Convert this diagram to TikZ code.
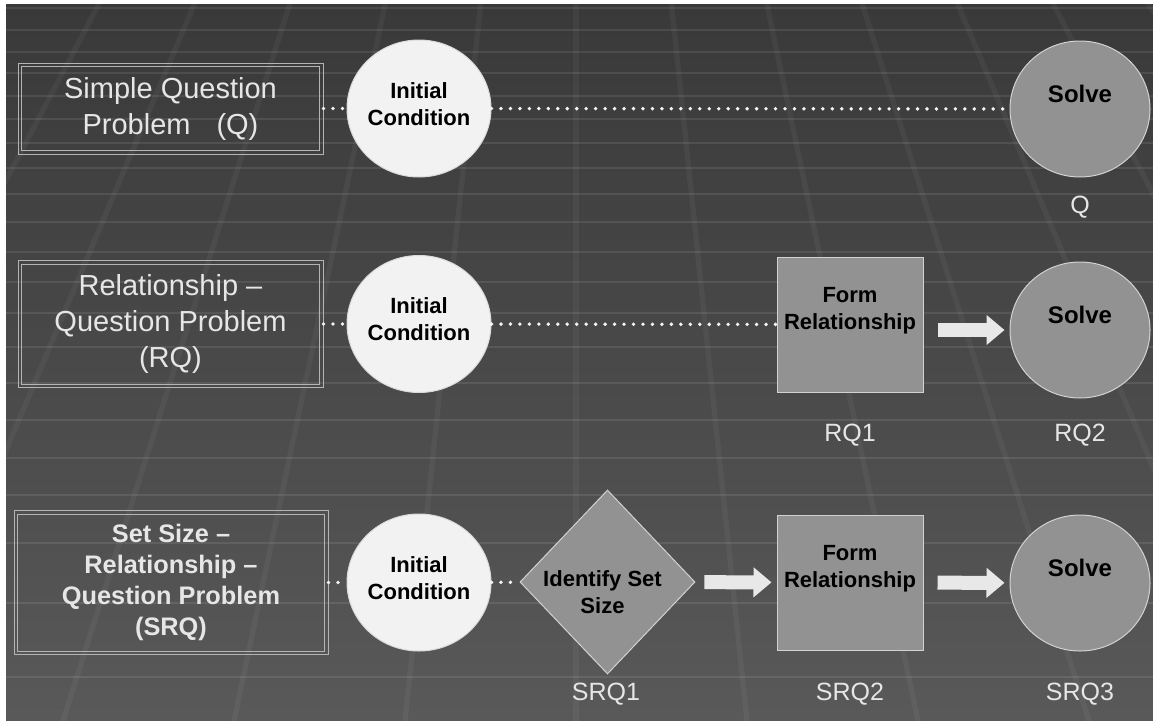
\documentclass[tikz,border=0pt]{standalone}
\usepackage{fontspec}
\setmainfont{Liberation Sans}
\usetikzlibrary{shapes.geometric,arrows.meta,calc}
\definecolor{bgtop}{HTML}{393939}
\definecolor{bgbot}{HTML}{595959}
\definecolor{icfill}{HTML}{F2F2F2}
\definecolor{icedge}{HTML}{DADADA}
\definecolor{gfill}{HTML}{929292}
\definecolor{gedge}{HTML}{D2D2D2}
\definecolor{boxedge}{HTML}{B4B4B4}
\definecolor{txtlight}{HTML}{E6E6E6}
\definecolor{dotcol}{HTML}{F4F4F4}
\definecolor{arrcol}{HTML}{E8E8E8}
\begin{document}
\begin{tikzpicture}[x=0.75pt,y=-0.75pt,
  probbox/.style={draw=boxedge, line width=0.75pt, inner sep=0pt, align=center, text=txtlight},
  regtxt/.style={font=\fontsize{21.75pt}{27pt}\selectfont},
  boldtxt/.style={font=\bfseries\fontsize{19pt}{23.25pt}\selectfont},
  innerline/.style={draw=boxedge, line width=0.75pt},
  initcond/.style={ellipse, draw=icedge, line width=0.75pt, fill=icfill, inner sep=0pt,
    minimum width=108pt, minimum height=102.75pt,
    label={[font=\bfseries\fontsize{16.5pt}{20.25pt}\selectfont, align=center, yshift=3.4pt]center:Initial\\Condition}},
  solvenode/.style={ellipse, draw=gedge, line width=0.75pt, fill=gfill, inner sep=0pt,
    minimum width=105pt, minimum height=102pt,
    label={[font=\bfseries\fontsize{18pt}{21pt}\selectfont, yshift=11pt]center:Solve}},
  formnode/.style={rectangle, draw=gedge, line width=0.75pt, fill=gfill, inner sep=0pt,
    minimum width=109.5pt, minimum height=101.25pt,
    label={[font=\bfseries\fontsize{16.5pt}{20.25pt}\selectfont, align=center, yshift=10pt]center:Form\\Relationship}},
  setnode/.style={diamond, draw=gedge, line width=0.75pt, fill=gfill, inner sep=0pt,
    minimum width=131.25pt, minimum height=138pt,
    label={[font=\bfseries\fontsize{16.5pt}{20.25pt}\selectfont, align=center, yshift=-7.5pt, xshift=-3.75pt]center:Identify Set\\Size}},
  steplabel/.style={anchor=base, text=txtlight, font=\fontsize{18.75pt}{22pt}\selectfont, inner sep=0pt},
  dotconn/.style={draw=dotcol, line width=2.9pt, line cap=round, dash pattern=on 0pt off 7.1pt},
  blockarr/.style={draw=arrcol, line width=10.5pt, -{Triangle[width=21.75pt,length=13.5pt]}},
  hline/.style={draw=white, opacity=0.09, line width=2.2pt},
  sline/.style={draw=white, opacity=0.045, line width=4pt}
]
% background
\fill[white] (0,0) rectangle (1153,721);
\shade[top color=bgtop, bottom color=bgbot] (6,4) rectangle (1153,721);
\begin{scope}
  \clip (6,4) rectangle (1153,721);
  \foreach \yy in {8,30,52,73,96,119,143,168,194,222,252,282,313,347,383,420,458,495,543,603,677}
    \draw[hline] (6,\yy) -- (1153,\yy);
  \foreach \k in {-8,...,8}
    \draw[sline] ({576+\k*95},0) -- ({576+\k*171},721);
\end{scope}

% row 1
\node[probbox, regtxt, minimum width=228.75pt, minimum height=68.25pt] (b1) at (170.5,108.5)
  {Simple Question\\Problem\hspace{19.5pt}(Q)};
\node[initcond] (ic1) at (419,108.5) {};
\node[solvenode] (s1) at (1080,109) {};
\node[steplabel] (lq) at (1080,213) {Q};

% row 2
\node[probbox, regtxt, minimum width=228.75pt, minimum height=95.25pt] (b2) at (170.5,324)
  {Relationship --\\Question Problem\\(RQ)};
\node[initcond] (ic2) at (419,324) {};
\node[formnode] (fr2) at (850,324.5) {};
\node[solvenode] (s2) at (1080,330) {};
\node[steplabel] (lrq1) at (850,441) {RQ1};
\node[steplabel] (lrq2) at (1080,441) {RQ2};

% row 3
\node[probbox, boldtxt, minimum width=235.5pt, minimum height=108pt] (b3) at (171,582.5)
  {Set Size --\\Relationship --\\Question Problem\\(SRQ)};
\node[initcond] (ic3) at (419,582.5) {};
\node[setnode] (d3) at (607.5,582) {};
\node[formnode] (fr3) at (850,582.5) {};
\node[solvenode] (s3) at (1080,583) {};
\node[steplabel] (lsrq1) at (606,700) {SRQ1};
\node[steplabel] (lsrq2) at (850,700) {SRQ2};
\node[steplabel] (lsrq3) at (1080,700) {SRQ3};

% inner lines of the double frames
\foreach \b in {b1,b2,b3}
  \draw[innerline] ([xshift=3pt,yshift=-3pt]\b.north west) rectangle ([xshift=-3pt,yshift=3pt]\b.south east);

% dotted connectors
\draw[dotconn] (b1) -- (ic1);
\draw[dotconn] (ic1) -- (s1);
\draw[dotconn] (b2) -- (ic2);
\draw[dotconn] (ic2) -- (fr2);
\draw[dotconn] (b3) -- (ic3);
\draw[dotconn] (ic3) -- (d3);

% block arrows
\draw[blockarr, shorten <=10.5pt, shorten >=3.75pt] (fr2.east |- s2) -- (s2);
\draw[blockarr, shorten <=6.75pt, shorten >=3.75pt] (d3) -- (fr3);
\draw[blockarr, shorten <=10.5pt, shorten >=3.75pt] (fr3) -- (s3);
\end{tikzpicture}
\end{document}
